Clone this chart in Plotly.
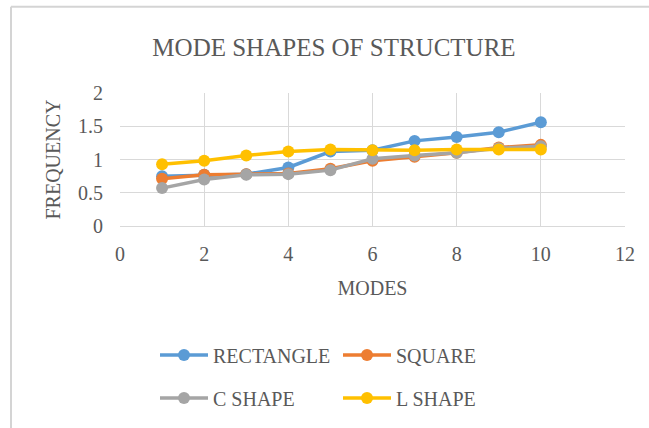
import plotly.graph_objects as go

modes = [1, 2, 3, 4, 5, 6, 7, 8, 9, 10]
rectangle = [0.75, 0.77, 0.78, 0.88, 1.12, 1.14, 1.28, 1.34, 1.41, 1.56]
square = [0.71, 0.77, 0.78, 0.79, 0.86, 0.98, 1.04, 1.10, 1.18, 1.22]
c_shape = [0.57, 0.70, 0.77, 0.78, 0.84, 1.01, 1.06, 1.10, 1.17, 1.20]
l_shape = [0.93, 0.98, 1.06, 1.12, 1.15, 1.14, 1.14, 1.15, 1.15, 1.15]

series = [
    ("RECTANGLE", rectangle, "#5B9BD5", "legend"),
    ("SQUARE", square, "#ED7D31", "legend"),
    ("C SHAPE", c_shape, "#A5A5A5", "legend2"),
    ("L SHAPE", l_shape, "#FFC000", "legend2"),
]

FONT = "Liberation Serif, Times New Roman, serif"
TXT = "#595959"

fig = go.Figure()
for name, vals, col, lg in series:
    fig.add_trace(go.Scatter(
        x=modes, y=vals, name=name, mode="lines+markers",
        line=dict(color=col, width=3.5),
        marker=dict(color=col, size=12),
        legend=lg,
    ))

W, H = 649, 428
L, R, T, B = 120, 24, 93, 201
pw, ph = W - L - R, H - T - B

def px(x):
    return (x - L) / pw

def py(y):
    return 1 - (y - T) / ph

legend_common = dict(
    orientation="h", xanchor="left", yanchor="middle",
    font=dict(family=FONT, size=20, color=TXT),
    entrywidth=120, itemwidth=48, bgcolor="rgba(0,0,0,0)",
)

fig.update_layout(
    width=W, height=H,
    margin=dict(l=L, r=R, t=T, b=B),
    paper_bgcolor="white", plot_bgcolor="white",
    font=dict(family=FONT, size=20, color=TXT),
    title=dict(text="MODE SHAPES OF STRUCTURE", xref="paper", x=px(334),
               xanchor="center", y=1 - 47 / H, yanchor="middle",
               font=dict(family=FONT, size=25, color=TXT)),
    xaxis=dict(range=[0, 12], dtick=2, showgrid=True, gridcolor="#D9D9D9",
               gridwidth=1, zeroline=False, showline=True, linecolor="#D9D9D9",
               ticks="", ticklabelstandoff=10, tickfont=dict(size=20, color=TXT),
               title=dict(text="MODES", font=dict(size=20, color=TXT), standoff=16)),
    yaxis=dict(range=[0, 2], dtick=0.5, showgrid=True, gridcolor="#D9D9D9",
               gridwidth=1, zeroline=False, showline=False, ticks="",
               ticklabelstandoff=16, tickfont=dict(size=20, color=TXT),
               title=dict(text="FREQUENCY", font=dict(size=20, color=TXT), standoff=12)),
    legend=dict(x=px(155), y=py(355), **legend_common),
    legend2=dict(x=px(155), y=py(398), **legend_common),
    shapes=[
        dict(type="line", xref="paper", yref="paper", x0=px(11), x1=px(W + 5),
             y0=py(6), y1=py(6), line=dict(color="#D4D4D4", width=2)),
        dict(type="line", xref="paper", yref="paper", x0=px(11), x1=px(11),
             y0=py(6), y1=py(H + 5), line=dict(color="#D4D4D4", width=2)),
    ],
)

fig.write_html("out.html")
